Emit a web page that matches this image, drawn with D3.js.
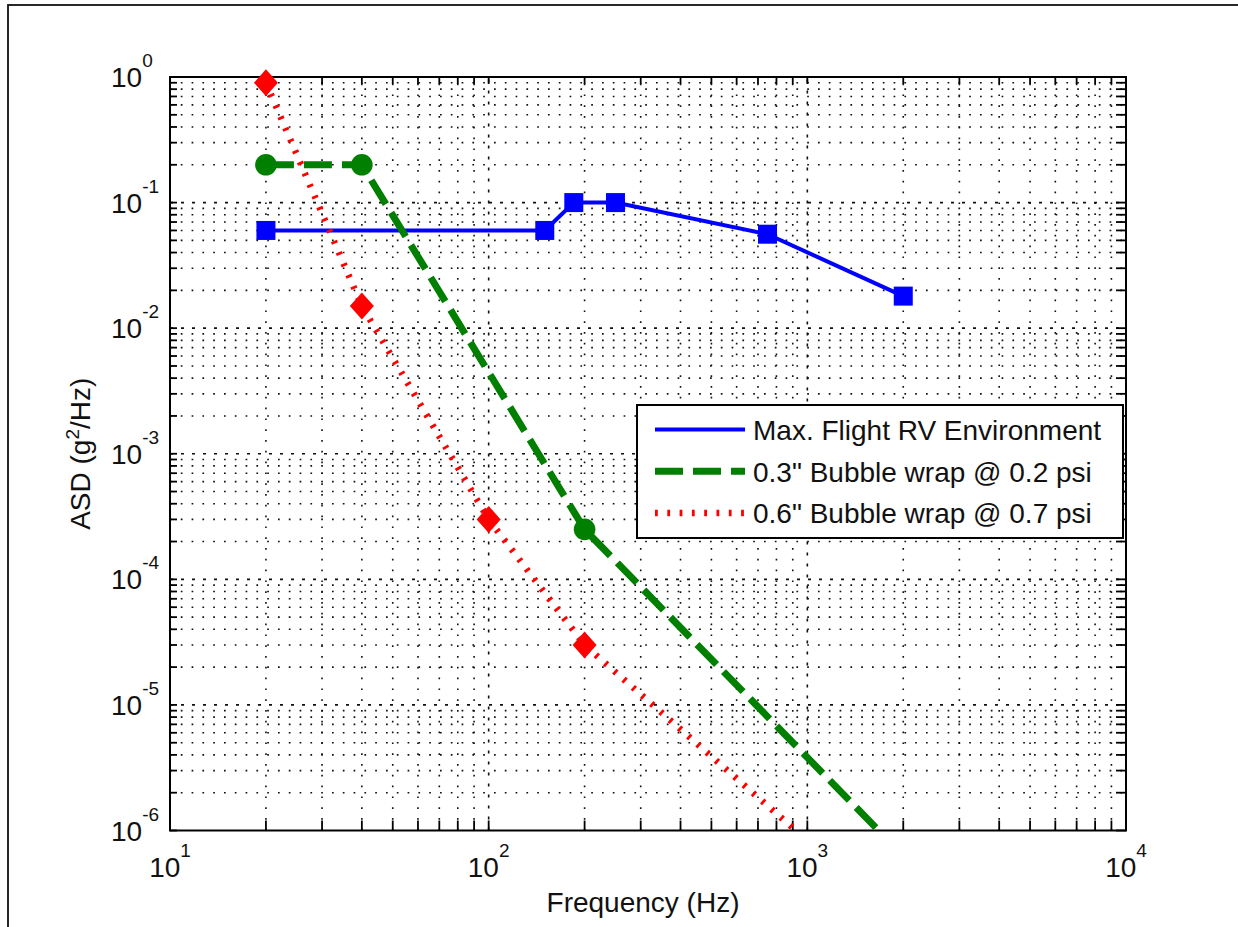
<!DOCTYPE html>
<html>
<head>
<meta charset="utf-8">
<script src="https://cdn.jsdelivr.net/npm/d3@7"></script>
<style>
  html, body { margin: 0; padding: 0; background: #fff; }
  svg { display: block; font-family: "Liberation Sans", Arial, Helvetica, sans-serif; }
</style>
</head>
<body>
<svg id="chart" width="1238" height="927"></svg>
<script>
// Break-points of each curve: frequency (Hz) and acceleration spectral density (g^2/Hz)
const flightFreq = [20, 150, 185, 250, 750, 2000];
const flightASD  = [0.06, 0.06, 0.1, 0.1, 0.056, 0.018];

const wrap03Freq = [20, 40, 200, 2000];
const wrap03ASD  = [0.2, 0.2, 0.00025, 6.3e-7];

const wrap06Freq = [20, 40, 100, 200, 1000];
const wrap06ASD  = [0.9, 0.015, 0.0003, 0.00003, 8.3e-7];

const seriesNames = [
  'Max. Flight RV Environment',
  '0.3" Bubble wrap @ 0.2 psi',
  '0.6" Bubble wrap @ 0.7 psi'
];

const xTickValues    = [10, 100, 1000, 10000];
const xTickExponents = ['1', '2', '3', '4'];
const yTickValues    = [1, 0.1, 0.01, 0.001, 0.0001, 0.00001, 0.000001];
const yTickExponents = ['0', '-1', '-2', '-3', '-4', '-5', '-6'];

const xTitle = 'Frequency (Hz)';

// ---- layout ----
const L = 170, R = 1126, T = 77, B = 830.5;
const svg = d3.select('#chart');

const x = d3.scaleLog().domain([10, 10000]).range([L, R]);
const y = d3.scaleLog().domain([1e-6, 1]).range([B, T]);

// outer figure frame (top and left edges visible)
svg.append('rect')
  .attr('x', 8).attr('y', 5).attr('width', 1300).attr('height', 1000)
  .attr('fill', 'none').attr('stroke', '#111').attr('stroke-width', 1.8);

svg.append('defs').append('clipPath').attr('id', 'plotClip')
  .append('rect').attr('x', L).attr('y', T).attr('width', R - L).attr('height', B - T);

const isDecade = v => Math.abs(Math.log10(v) - Math.round(Math.log10(v))) < 1e-9;

// ---- dotted grid ----
const grid = svg.append('g');
x.ticks().filter(v => v > 10 && v < 10000).forEach(v => {
  grid.append('line')
    .attr('x1', x(v)).attr('x2', x(v)).attr('y1', B).attr('y2', T)
    .attr('stroke', '#111').attr('stroke-width', 1.6)
    .attr('stroke-dasharray', isDecade(v) ? '3 8' : '1.7 9.1');
});
y.ticks().filter(v => v > 1e-6 && v < 1).forEach(v => {
  grid.append('line')
    .attr('x1', L).attr('x2', R).attr('y1', y(v)).attr('y2', y(v))
    .attr('stroke', '#111').attr('stroke-width', 1.6)
    .attr('stroke-dasharray', isDecade(v) ? '3 8' : '1.7 9.1');
});

// ---- ticks and box ----
const axes = svg.append('g').attr('stroke', '#000').attr('stroke-width', 1.8);
x.ticks().forEach(v => {
  axes.append('line').attr('x1', x(v)).attr('x2', x(v)).attr('y1', B).attr('y2', B - 10);
  axes.append('line').attr('x1', x(v)).attr('x2', x(v)).attr('y1', T).attr('y2', T + 7);
});
y.ticks().forEach(v => {
  axes.append('line').attr('x1', L).attr('x2', L + 7).attr('y1', y(v)).attr('y2', y(v));
  axes.append('line').attr('x1', R).attr('x2', R - 10).attr('y1', y(v)).attr('y2', y(v));
});
svg.append('rect')
  .attr('x', L).attr('y', T).attr('width', R - L).attr('height', B - T)
  .attr('fill', 'none').attr('stroke', '#000').attr('stroke-width', 2);

// ---- tick labels (10 with superscript exponent) ----
const labelFont = 28, expFont = 19;
xTickValues.forEach((v, i) => {
  const t = svg.append('text')
    .attr('x', x(v)).attr('y', 877)
    .attr('text-anchor', 'middle')
    .attr('font-size', labelFont).attr('fill', '#111');
  t.append('tspan').text('10');
  t.append('tspan').attr('dy', -20).attr('font-size', expFont).text(xTickExponents[i]);
});
yTickValues.forEach((v, i) => {
  const t = svg.append('text')
    .attr('x', 111).attr('y', y(v) + 10)
    .attr('text-anchor', 'start')
    .attr('font-size', labelFont).attr('fill', '#111');
  t.append('tspan').text('10');
  t.append('tspan').attr('dy', -20).attr('font-size', expFont).text(yTickExponents[i]);
});

// ---- axis titles ----
svg.append('text')
  .attr('x', (L + R) / 2 - 5).attr('y', 912)
  .attr('text-anchor', 'middle').attr('font-size', labelFont).attr('fill', '#111')
  .text(xTitle);

const yt = svg.append('text')
  .attr('transform', `translate(90,${(T + B) / 2}) rotate(-90)`)
  .attr('text-anchor', 'middle').attr('font-size', labelFont).attr('fill', '#111');
yt.append('tspan').text('ASD (g');
yt.append('tspan').attr('dy', -11).attr('font-size', expFont).text('2');
yt.append('tspan').attr('dy', 11).text('/Hz)');

// ---- series ----
const series = [
  { name: seriesNames[0], freq: flightFreq, asd: flightASD, color: '#0000ff', width: 4, dash: null, marker: 'square' },
  { name: seriesNames[1], freq: wrap03Freq, asd: wrap03ASD, color: '#007f00', width: 7, dash: '28 10', marker: 'circle' },
  { name: seriesNames[2], freq: wrap06Freq, asd: wrap06ASD, color: '#ff0000', width: 6.5, dash: '2.8 9.5', marker: 'diamond' }
];

const line = d3.line().x(d => x(d.f)).y(d => y(d.a));
const dataLayer = svg.append('g');

series.forEach(s => {
  const pts = s.freq.map((f, i) => ({ f, a: s.asd[i] }));
  dataLayer.append('path')
    .datum(pts)
    .attr('d', line)
    .attr('clip-path', 'url(#plotClip)')
    .attr('fill', 'none')
    .attr('stroke', s.color)
    .attr('stroke-width', s.width)
    .attr('stroke-dasharray', s.dash)
    .attr('stroke-linejoin', 'round');
});

// markers at break-points that lie inside the axes range
series.forEach(s => {
  const pts = s.freq.map((f, i) => ({ f, a: s.asd[i] }))
    .filter(d => d.a >= 1e-6 && d.a <= 1 && d.f >= 10 && d.f <= 10000);
  pts.forEach(d => {
    const cx = x(d.f), cy = y(d.a);
    if (s.marker === 'square') {
      dataLayer.append('rect')
        .attr('x', cx - 9.5).attr('y', cy - 9.5).attr('width', 19).attr('height', 19)
        .attr('fill', s.color);
    } else if (s.marker === 'circle') {
      dataLayer.append('circle')
        .attr('cx', cx).attr('cy', cy).attr('r', 10.8)
        .attr('fill', s.color);
    } else {
      dataLayer.append('path')
        .attr('d', `M${cx},${cy - 13.5}L${cx + 12},${cy}L${cx},${cy + 13.5}L${cx - 12},${cy}Z`)
        .attr('fill', s.color);
    }
  });
});

// ---- legend ----
const lg = svg.append('g');
lg.append('rect')
  .attr('x', 637).attr('y', 405).attr('width', 486).attr('height', 133)
  .attr('fill', '#fff').attr('stroke', '#000').attr('stroke-width', 2);
series.forEach((s, i) => {
  const ly = 429.5 + i * 41.7;
  lg.append('line')
    .attr('x1', 655).attr('x2', 745).attr('y1', ly).attr('y2', ly)
    .attr('stroke', s.color).attr('stroke-width', s.width)
    .attr('stroke-dasharray', s.dash);
  lg.append('text')
    .attr('x', 753).attr('y', ly + 10.5)
    .attr('font-size', labelFont).attr('fill', '#111')
    .text(s.name);
});
</script>
</body>
</html>
